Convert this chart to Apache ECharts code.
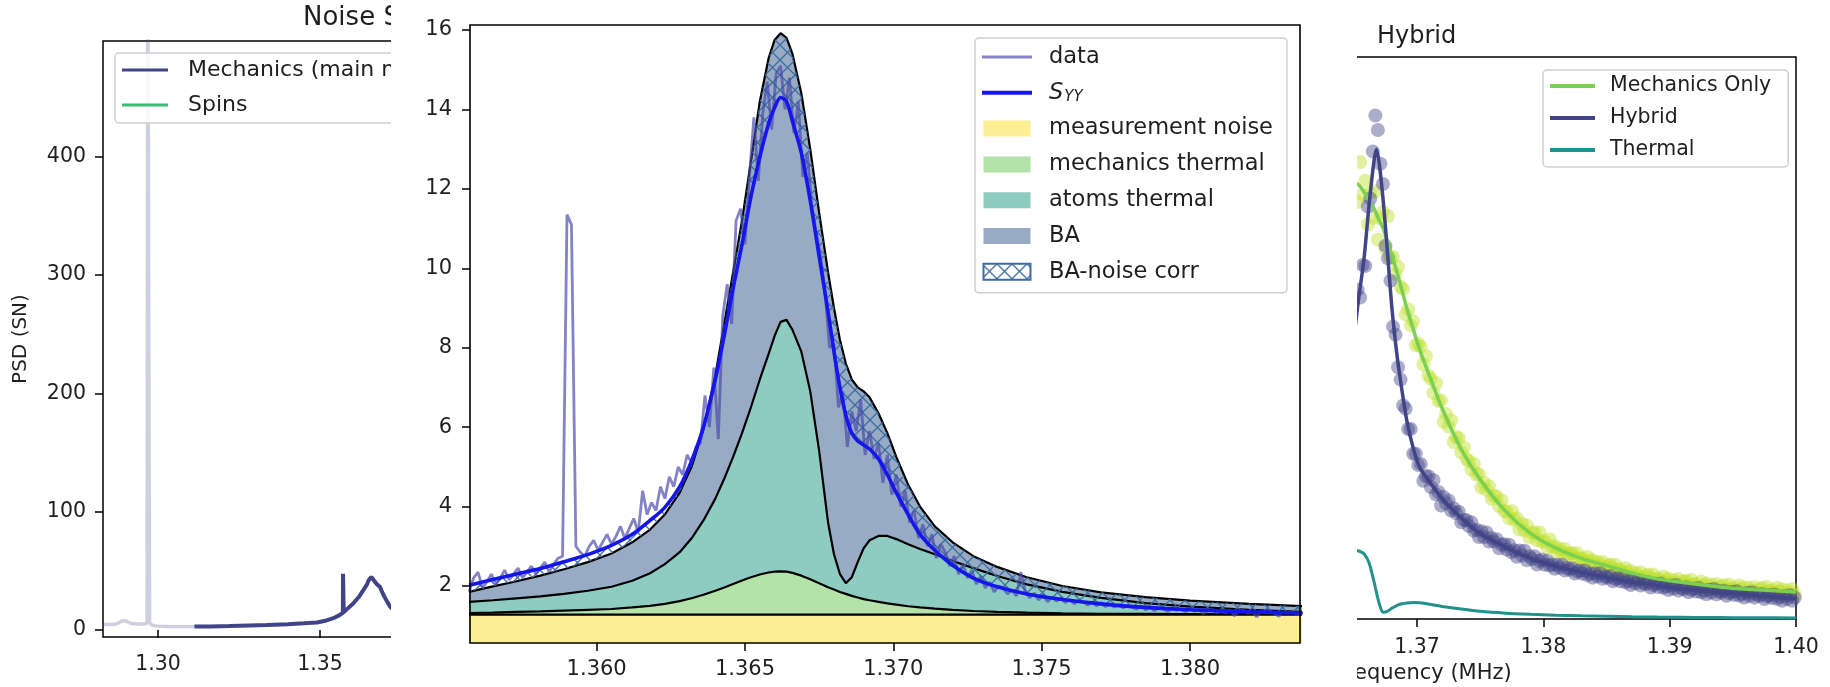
<!DOCTYPE html>
<html>
<head>
<meta charset="utf-8">
<script src="https://cdn.jsdelivr.net/npm/echarts@6/dist/echarts.min.js"></script>
<style>
  html, body { margin: 0; padding: 0; background: #ffffff; }
  #chart { width: 1830px; height: 687px; }
</style>
</head>
<body>
<div id="chart"></div>
<script>
// ---------- left panel: wide noise spectrum ----------
const wideLightFreq = [1.2830, 1.2850, 1.2870, 1.2882, 1.2892, 1.2902, 1.2915, 1.2935, 1.2955, 1.2966,
  1.2968, 1.2970, 1.2972, 1.2974, 1.2985, 1.3000, 1.3030, 1.3060, 1.3090, 1.3112];
const wideLightPsd = [4.8, 4.6, 5.0, 6.6, 7.9, 7.3, 5.6, 5.0, 5.0, 5.5,
  600, 600, 600, 5.5, 3.6, 3.2, 2.9, 2.8, 2.8, 2.8];
const wideMainFreq = [1.3112, 1.3160, 1.3220, 1.3280, 1.3336, 1.3400, 1.3450, 1.3490, 1.3520, 1.3541,
  1.3560, 1.35705, 1.3571, 1.35715, 1.3573, 1.3585, 1.3603, 1.3620, 1.3634, 1.3645,
  1.3650, 1.3654, 1.3658, 1.3663, 1.3668, 1.3674, 1.3685, 1.3695, 1.3708, 1.3716, 1.3730];
const wideMainPsd = [2.8, 2.9, 3.3, 3.8, 4.2, 4.8, 5.6, 6.3, 8.0, 9.9,
  12.5, 14.5, 47.5, 47.5, 15.0, 18.0, 22.5, 28.0, 33.8, 38.5,
  42.0, 43.5, 44.8, 43.0, 41.5, 39.0, 36.3, 30.0, 23.5, 19.8, 16.0];
const wideXTicks = [1.30, 1.35, 1.40];
const wideYTicks = [0, 100, 200, 300, 400];

// ---------- centre panel: spectrum decomposition ----------
const fitFreq = [1.3557, 1.3565, 1.3573, 1.3581, 1.3589, 1.3597, 1.3605, 1.3612, 1.3618, 1.3623,
  1.3628, 1.3632, 1.3636, 1.3640, 1.3643, 1.3646, 1.3649, 1.3652, 1.3655, 1.3658,
  1.3660, 1.3662, 1.3664, 1.3666, 1.3669, 1.3672, 1.3675, 1.3678, 1.3680, 1.3682,
  1.3684, 1.3686, 1.3688, 1.3690, 1.3692, 1.3695, 1.3698, 1.3701, 1.3705, 1.3709,
  1.3714, 1.3720, 1.3727, 1.3735, 1.3745, 1.3757, 1.3770, 1.3785, 1.3800, 1.3820,
  1.3838];
const syyFit = [2.02, 2.16, 2.30, 2.44, 2.61, 2.79, 3.02, 3.30, 3.65, 3.98,
  4.50, 5.15, 6.00, 7.20, 8.30, 9.50, 10.6, 11.8, 12.8, 13.65,
  14.05, 14.3, 14.2, 13.7, 12.9, 11.7, 10.3, 8.9, 7.9, 7.0,
  6.3, 5.85, 5.65, 5.55, 5.45, 5.2, 4.8, 4.35, 3.8, 3.3,
  2.9, 2.52, 2.2, 1.98, 1.8, 1.66, 1.55, 1.46, 1.40, 1.35,
  1.32];
const baTop = [1.85, 1.99, 2.12, 2.26, 2.42, 2.60, 2.82, 3.10, 3.42, 3.80,
  4.35, 5.0, 5.95, 7.3, 8.6, 9.9, 11.2, 12.7, 14.2, 15.3,
  15.75, 15.92, 15.8, 15.4, 14.4, 13.0, 11.4, 9.9, 9.0, 8.2,
  7.6, 7.2, 7.0, 6.9, 6.75, 6.35, 5.85, 5.25, 4.55, 4.0,
  3.5, 3.1, 2.75, 2.48, 2.22, 2.0, 1.84, 1.72, 1.63, 1.55,
  1.49];
const atomsTop = [1.60, 1.64, 1.69, 1.74, 1.80, 1.88, 1.98, 2.13, 2.32, 2.55,
  2.85, 3.2, 3.65, 4.2, 4.7, 5.25, 5.85, 6.5, 7.2, 7.85,
  8.3, 8.65, 8.7, 8.45, 7.9, 6.9, 5.4, 3.6, 2.8, 2.3,
  2.07, 2.22, 2.6, 2.95, 3.15, 3.26, 3.26, 3.18, 3.05, 2.93,
  2.8, 2.63, 2.45, 2.25, 2.04, 1.85, 1.7, 1.57, 1.48, 1.40,
  1.35];
const mechTop = [1.32, 1.33, 1.35, 1.36, 1.38, 1.40, 1.42, 1.46, 1.50, 1.55,
  1.62, 1.69, 1.78, 1.88, 1.96, 2.05, 2.14, 2.22, 2.29, 2.34,
  2.36, 2.37, 2.36, 2.33, 2.26, 2.17, 2.07, 1.97, 1.91, 1.85,
  1.80, 1.75, 1.71, 1.67, 1.64, 1.60, 1.56, 1.53, 1.49, 1.46,
  1.43, 1.40, 1.37, 1.35, 1.33, 1.31, 1.30, 1.295, 1.29, 1.285,
  1.285];
const noiseLevel = 1.28;

// measured PSD, sampled every dataStep starting at dataStart
const dataStart = 1.3557;
const dataStep = 0.00015;
const dataPsd = [
  1.85, 2.2, 2.35, 1.95, 2.1, 2.3, 2.05, 2.2, 2.4, 2.15, 2.3, 2.45, 2.2, 2.35, 2.5, 2.3, 2.45, 2.6, 2.35, 2.55, 2.7,
  2.75, 11.35, 11.1, 3.0,
  2.85, 2.75, 3.0, 3.15, 2.9, 3.1, 3.3, 3.05, 3.25, 3.5, 3.2,
  3.45, 3.7, 3.35, 4.4, 3.8, 4.1, 3.9, 4.5, 4.2, 4.75,
  4.5, 5.0, 4.8, 5.3, 5.1, 5.5, 5.6,
  6.8, 6.0, 7.5, 5.7, 8.8, 9.6, 8.6, 11.2,
  11.5, 10.6, 12.3, 13.8, 12.2, 13.9, 14.7, 13.5, 14.9,
  15.1, 14.0, 14.8, 13.4, 14.2, 12.3, 12.9, 11.6, 10.9, 10.3,
  9.4, 8.0, 8.1, 6.5, 6.9, 5.5, 6.4, 5.9, 6.7, 5.3,
  5.9, 5.2, 5.6, 4.6, 5.3, 4.3, 4.8, 4.0, 4.4, 3.6,
  3.9, 3.2, 3.55, 3.0, 3.3, 2.7, 3.05, 2.85, 2.5, 2.75,
  2.3, 2.55, 2.2, 2.4, 2.05, 2.25, 1.95, 2.1, 1.85, 2.0,
  1.95, 1.8, 1.9, 1.75, 2.35, 1.85, 1.7, 1.82, 1.65, 1.78,
  1.6, 1.72, 1.62, 1.7, 1.58, 1.66, 1.55, 1.64, 1.6, 1.52,
  1.6, 1.5, 1.58, 1.48, 1.55, 1.47, 1.53, 1.45, 1.5, 1.46,
  1.42, 1.5, 1.4, 1.46, 1.38, 1.44, 1.42, 1.36, 1.45, 1.39,
  1.41, 1.35, 1.43, 1.36, 1.4, 1.3, 1.38, 1.42, 1.33, 1.37,
  1.32, 1.39, 1.25, 1.36, 1.4, 1.31, 1.35, 1.22, 1.37, 1.33,
  1.38, 1.3, 1.24, 1.35, 1.31, 1.37, 1.27, 1.33];
const zoomXTicks = [1.360, 1.365, 1.370, 1.375, 1.380];
const zoomYTicks = [2, 4, 6, 8, 10, 12, 14, 16];

// ---------- right panel: hybrid vs mechanics only ----------
// measured points, sampled every scatterStep starting at scatterStart
const scatterStart = 1.3653;
const scatterStep = 0.0002;
const hybridPts = [
  29.3, 28.6, 31.5, 31.4, 36.7, 37.4, 41.6, 44.8, 43.5, 40.5,
  38.7, 33.2, 32.1, 30.1, 26.0, 25.3, 22.4, 21.3, 19.0, 18.7,
  16.9, 16.9, 14.7, 14.7, 13.7, 13.8, 12.3, 12.7, 12.7, 11.75,
  12.35, 11.1, 11.3, 10.1, 10.85, 10.3, 10.55, 9.65, 9.85, 9.4,
  9.55, 8.6, 8.8, 8.8, 8.27, 8.6, 7.85, 7.95, 7.3, 7.8,
  7.3, 7.7, 6.9, 7.2, 6.9, 7.1, 6.3, 6.6, 6.65, 6.17,
  6.6, 5.94, 6.12, 5.53, 6.1, 5.65, 6.07, 5.23, 5.59, 5.33,
  5.58, 4.84, 5.15, 5.29, 4.82, 5.18, 4.75, 4.85, 4.46, 4.83,
  4.55, 4.83, 4.31, 4.54, 4.38, 4.52, 4.04, 4.23, 4.32, 4.02,
  4.31, 3.9, 4.04, 3.68, 4.06, 3.79, 4.08, 3.57, 3.81, 3.66,
  3.82, 3.35, 3.55, 3.65, 3.36, 3.66, 3.26, 3.39, 3.03, 3.43,
  3.17, 3.47, 2.97, 3.23, 3.09, 3.26, 2.8, 3.02, 3.13, 2.85,
  3.16, 2.77, 2.92, 2.57, 2.97, 2.71, 3.02, 2.52, 2.78, 2.64,
  2.82, 2.37, 2.6, 2.72, 2.45, 2.76, 2.38, 2.54, 2.2, 2.61,
  2.36, 2.68, 2.19, 2.46, 2.34, 2.52, 2.07, 2.3, 2.42, 2.15,
  2.47, 2.09, 2.25, 1.91, 2.32, 2.07, 2.39, 1.9, 2.17, 2.04,
  2.22, 1.78, 2.01, 2.13, 1.86, 2.18, 1.8, 1.97, 1.63, 2.04,
  1.79, 2.12, 1.63, 1.9];
const mechOnlyPts = [
  37.1, 40.65, 37.75, 39.0, 35.1, 37.9, 35.7, 38.05, 33.75, 35.65,
  36.2, 32.95, 35.85, 32.15, 32.2, 30.7, 31.33, 29.55, 29.35, 27.1,
  27.55, 26.12, 26.48, 24.35, 24.5, 24.23, 22.65, 23.4, 21.67, 21.38,
  20.1, 20.98, 19.4, 19.45, 17.55, 18.25, 17.12, 17.68, 15.75, 16.2,
  16.08, 14.83, 15.29, 14.26, 14.05, 13.29, 13.8, 12.86, 12.87, 11.71,
  12.13, 11.47, 11.81, 10.7, 10.94, 10.92, 10.03, 10.54, 9.61, 9.55,
  8.94, 9.6, 8.81, 8.97, 7.96, 8.48, 7.87, 8.31, 7.25, 7.64,
  7.72, 7.03, 7.69, 6.86, 6.95, 6.39, 7.1, 6.41, 6.5, 5.95,
  6.25, 5.93, 6.23, 5.65, 5.85, 5.88, 5.45, 5.85, 5.38, 5.4,
  5.1, 5.52, 5.12, 5.26, 4.74, 5.08, 4.79, 5.08, 4.53, 4.77,
  4.83, 4.44, 4.82, 4.39, 4.42, 4.13, 4.54, 4.15, 4.28, 3.77,
  4.12, 3.85, 4.14, 3.61, 3.86, 3.94, 3.55, 3.95, 3.53, 3.59,
  3.33, 3.78, 3.42, 3.59, 3.11, 3.48, 3.23, 3.55, 3.04, 3.31,
  3.41, 3.05, 3.47, 3.07, 3.14, 2.88, 3.33, 2.97, 3.15, 2.67,
  3.04, 2.8, 3.13, 2.62, 2.9, 3.0, 2.65, 3.08, 2.68, 2.77,
  2.52, 2.99, 2.65, 2.83, 2.37, 2.75, 2.52, 2.85, 2.36, 2.65,
  2.77, 2.42, 2.86, 2.48, 2.56, 2.32, 2.79, 2.44, 2.63, 2.17,
  2.55, 2.32, 2.66, 2.16];
const rightFitFreq = [1.3650, 1.3654, 1.3658, 1.3662, 1.3666, 1.3668, 1.3670, 1.3673, 1.3676, 1.3680,
  1.3684, 1.3688, 1.3692, 1.3697, 1.3702, 1.3710, 1.3720, 1.3735, 1.3750, 1.3770,
  1.3790, 1.3810, 1.3830, 1.3850, 1.3870, 1.3890, 1.3910, 1.3930, 1.3950, 1.3970, 1.4000];
const hybridFit = [25.0, 28.7, 32.0, 36.8, 40.8, 41.8, 40.6, 37.5, 33.5, 27.8,
  23.6, 20.4, 17.6, 15.2, 13.5, 12.2, 10.7, 9.0, 7.6, 6.4,
  5.4, 4.7, 4.15, 3.7, 3.28, 2.97, 2.67, 2.46, 2.27, 2.07, 1.8];
const mechOnlyFit = [38.9, 38.6, 38.0, 37.3, 36.5, 36.0, 35.5, 34.8, 33.8, 32.4,
  30.9, 29.3, 27.6, 25.8, 24.0, 21.6, 18.7, 15.1, 12.4, 9.6,
  7.6, 6.3, 5.4, 4.75, 4.1, 3.57, 3.27, 2.98, 2.74, 2.6, 2.4];
const thermalFit = [6.1, 6.05, 5.8, 5.0, 3.3, 2.3, 1.4, 0.6, 0.65, 0.95,
  1.2, 1.35, 1.43, 1.46, 1.44, 1.32, 1.12, 0.88, 0.68, 0.52,
  0.42, 0.34, 0.28, 0.24, 0.2, 0.17, 0.15, 0.13, 0.12, 0.11, 0.1];
const hybXTicks = [1.34, 1.35, 1.36, 1.37, 1.38, 1.39, 1.40];

// ---------- styling ----------
const FONT = 'DejaVu Sans';
const INK = '#1f1f1f';
const C_NOISE = '#fcef93';
const C_MECH = '#b3e3a9';
const C_ATOMS = '#8ecbc1';
const C_BA = '#98abc4';
const C_HATCH = '#3d6d9e';
const C_DATA = 'rgba(72, 72, 170, 0.68)';
const C_SYY = '#1515ee';
const VIR_NAVY = '#414487';
const VIR_TEAL = '#21918c';
const VIR_GREEN = '#7ad151';
const VIR_LIME = 'rgba(189, 223, 38, 0.55)';
const VIR_NAVY_PT = 'rgba(65, 68, 135, 0.55)';
const C_SPINS = '#3dbc74';

const pairs = (xs, ys) => xs.map((x, i) => [x, ys[i]]);
const sampled = (start, step, ys) => ys.map((y, i) => [+(start + i * step).toFixed(6), y]);

function hatchTile() {
  const c = document.createElement('canvas');
  c.width = 15; c.height = 15;
  const g = c.getContext('2d');
  g.strokeStyle = C_HATCH;
  g.lineWidth = 1.3;
  g.beginPath();
  g.moveTo(0, 0); g.lineTo(15, 15);
  g.moveTo(15, 0); g.lineTo(0, 15);
  g.stroke();
  return c;
}
const hatch = { image: hatchTile(), repeat: 'repeat' };

function tickAxisLabel(size, margin, values, digits) {
  return {
    customValues: values, fontFamily: FONT, fontSize: size, color: INK, margin: margin,
    formatter: v => digits == null ? String(v) : Number(v).toFixed(digits)
  };
}
const tick = values => ({ show: true, customValues: values, length: 8, inside: false,
  lineStyle: { color: '#000', width: 1.5 } });

const LINE_ICON = 'path://M0,0H50V3H0Z';
const SYY_ICON = 'path://M0,0H50V4H0Z';
const PATCH_ICON = 'path://M0,0H47V16H0Z';
const legendFrame = {
  orient: 'vertical', backgroundColor: 'rgba(255,255,255,0.85)', borderColor: '#cfcfcf',
  borderWidth: 1.5, borderRadius: 4, selectedMode: false
};

const chart = echarts.init(document.getElementById('chart'), null, { renderer: 'canvas' });

const option = {
  animation: false,
  backgroundColor: '#ffffff',
  title: [
    { text: 'Noise Spectrum', left: 303, top: 4, padding: 0,
      textStyle: { fontFamily: FONT, fontSize: 26, fontWeight: 'normal', color: INK, lineHeight: 28 } },
    { text: 'Hybrid', left: 1377, top: 24, padding: 0,
      textStyle: { fontFamily: FONT, fontSize: 24, fontWeight: 'normal', color: INK, lineHeight: 26 } }
  ],
  grid: [
    { left: 103, top: 41, width: 541, height: 596, show: true, borderColor: '#000', borderWidth: 1.5,
      backgroundColor: 'transparent', outerBoundsMode: 'none' },
    { left: 470, top: 25, width: 830, height: 618, show: true, borderColor: '#000', borderWidth: 1.6,
      backgroundColor: 'transparent', z: 40, outerBoundsMode: 'none' },
    { left: 1034, top: 57, width: 762, height: 562, show: true, borderColor: '#000', borderWidth: 1.5,
      backgroundColor: 'transparent', outerBoundsMode: 'none' }
  ],
  xAxis: [
    { type: 'value', gridIndex: 0, min: 1.283, max: 1.45,
      axisLine: { show: false }, splitLine: { show: false },
      axisTick: tick(wideXTicks), axisLabel: tickAxisLabel(20.5, 17, wideXTicks, 2) },
    { type: 'value', gridIndex: 1, min: 1.35573, max: 1.38371, z: 30,
      axisLine: { show: false }, splitLine: { show: false },
      axisTick: tick(zoomXTicks), axisLabel: tickAxisLabel(21, 16, zoomXTicks, 3) },
    { type: 'value', gridIndex: 2, min: 1.33968, max: 1.40,
      axisLine: { show: false }, splitLine: { show: false },
      axisTick: tick(hybXTicks), axisLabel: tickAxisLabel(20.5, 18, hybXTicks, 2),
      name: 'Frequency (MHz)', nameLocation: 'middle', nameGap: 44,
      nameTextStyle: { fontFamily: FONT, fontSize: 21, color: INK, padding: [0, 0, 0, 17] } }
  ],
  yAxis: [
    { type: 'value', gridIndex: 0, min: -6, max: 498,
      axisLine: { show: false }, splitLine: { show: false },
      axisTick: tick(wideYTicks), axisLabel: tickAxisLabel(20.5, 17, wideYTicks, null),
      name: 'PSD (SN)', nameLocation: 'middle', nameGap: 72, nameRotate: 90,
      nameTextStyle: { fontFamily: FONT, fontSize: 20, color: INK } },
    { type: 'value', gridIndex: 1, min: 0.564, max: 16.126, z: 30,
      axisLine: { show: false }, splitLine: { show: false },
      axisTick: tick(zoomYTicks), axisLabel: tickAxisLabel(21, 18, zoomYTicks, null) },
    { type: 'value', gridIndex: 2, min: 0, max: 50,
      axisLine: { show: false }, splitLine: { show: false },
      axisTick: { show: false }, axisLabel: { show: false } }
  ],
  legend: [
    Object.assign({}, legendFrame, {
      left: 115, top: 53, padding: [5, 20, 6, 7], itemWidth: 46, itemHeight: 16, itemGap: 11,
      data: [
        { name: 'Mechanics (main mode)', icon: 'path://M0,0H46V3H0Z', itemStyle: { color: VIR_NAVY, borderWidth: 0 } },
        { name: 'Spins', icon: 'path://M0,0H46V3H0Z', itemStyle: { color: C_SPINS, borderWidth: 0 } }
      ],
      textStyle: { fontFamily: FONT, fontSize: 22, color: INK, lineHeight: 24, padding: [0, 0, 0, 15] }
    }),
    Object.assign({}, legendFrame, {
      left: 975, top: 38, padding: [7, 14, 9, 7], itemWidth: 50, itemHeight: 16, itemGap: 11.8, z: 45,
      data: [
        { name: 'data', icon: LINE_ICON, itemStyle: { color: C_DATA, borderWidth: 0 } },
        { name: 'SYY', icon: SYY_ICON, itemStyle: { color: C_SYY, borderWidth: 0 } },
        { name: 'measurement noise', icon: PATCH_ICON, itemStyle: { color: C_NOISE, borderWidth: 0 } },
        { name: 'mechanics thermal', icon: PATCH_ICON, itemStyle: { color: C_MECH, borderWidth: 0 } },
        { name: 'atoms thermal', icon: PATCH_ICON, itemStyle: { color: C_ATOMS, borderWidth: 0 } },
        { name: 'BA', icon: PATCH_ICON, itemStyle: { color: C_BA, borderWidth: 0 } },
        { name: 'BA-noise corr', icon: PATCH_ICON, itemStyle: { color: hatch, borderColor: C_HATCH, borderWidth: 2 } }
      ],
      formatter: name => name === 'SYY' ? '{s|S}{sub|YY}' : name,
      textStyle: {
        fontFamily: FONT, fontSize: 22.5, color: INK, lineHeight: 24, padding: [0, 0, 0, 12],
        rich: {
          s: { fontFamily: FONT, fontSize: 22.5, fontStyle: 'italic', color: INK, lineHeight: 24 },
          sub: { fontFamily: FONT, fontSize: 15, fontStyle: 'italic', color: INK, lineHeight: 24, padding: [9, 0, 0, 1] }
        }
      }
    }),
    Object.assign({}, legendFrame, {
      left: 1543, top: 70, padding: [5, 17, 6, 7], itemWidth: 45, itemHeight: 16, itemGap: 10,
      data: [
        { name: 'Mechanics Only', icon: 'path://M0,0H45V4H0Z', itemStyle: { color: VIR_GREEN, borderWidth: 0 } },
        { name: 'Hybrid', icon: 'path://M0,0H45V4H0Z', itemStyle: { color: VIR_NAVY, borderWidth: 0 } },
        { name: 'Thermal', icon: 'path://M0,0H45V4H0Z', itemStyle: { color: VIR_TEAL, borderWidth: 0 } }
      ],
      textStyle: { fontFamily: FONT, fontSize: 20.5, color: INK, lineHeight: 22, padding: [0, 0, 0, 10] }
    })
  ],
  graphic: {
    elements: [
      // white backing of the zoomed centre panel
      { type: 'rect', shape: { x: 391, y: 0, width: 966, height: 687 }, style: { fill: '#ffffff' }, z: 10, silent: true }
    ]
  },
  series: [
    // left panel
    { name: 'Mechanics (off-band)', type: 'line', xAxisIndex: 0, yAxisIndex: 0, symbol: 'none',
      data: pairs(wideLightFreq, wideLightPsd), lineStyle: { color: 'rgba(65,68,135,0.26)', width: 3.4 }, z: 2 },
    { name: 'Mechanics (main mode)', type: 'line', xAxisIndex: 0, yAxisIndex: 0, symbol: 'none',
      data: pairs(wideMainFreq, wideMainPsd), lineStyle: { color: VIR_NAVY, width: 4 }, itemStyle: { color: VIR_NAVY }, z: 3 },
    { name: 'Spins', type: 'line', xAxisIndex: 0, yAxisIndex: 0, symbol: 'none',
      data: [], lineStyle: { color: C_SPINS, width: 3 }, itemStyle: { color: C_SPINS }, z: 3 },

    // right panel
    { name: 'Mechanics Only points', type: 'scatter', xAxisIndex: 2, yAxisIndex: 2, symbolSize: 14,
      data: sampled(scatterStart, scatterStep, mechOnlyPts), itemStyle: { color: VIR_LIME }, z: 2 },
    { name: 'Hybrid points', type: 'scatter', xAxisIndex: 2, yAxisIndex: 2, symbolSize: 14,
      data: sampled(scatterStart, scatterStep, hybridPts), itemStyle: { color: VIR_NAVY_PT }, z: 2 },
    { name: 'Mechanics Only', type: 'line', xAxisIndex: 2, yAxisIndex: 2, symbol: 'none', smooth: 0.25,
      data: pairs(rightFitFreq, mechOnlyFit), lineStyle: { color: VIR_GREEN, width: 3.5 }, itemStyle: { color: VIR_GREEN }, z: 3 },
    { name: 'Hybrid', type: 'line', xAxisIndex: 2, yAxisIndex: 2, symbol: 'none', smooth: 0.25,
      data: pairs(rightFitFreq, hybridFit), lineStyle: { color: VIR_NAVY, width: 3.5 }, itemStyle: { color: VIR_NAVY }, z: 3 },
    { name: 'Thermal', type: 'line', xAxisIndex: 2, yAxisIndex: 2, symbol: 'none', smooth: 0.25,
      data: pairs(rightFitFreq, thermalFit), lineStyle: { color: VIR_TEAL, width: 3 }, itemStyle: { color: VIR_TEAL }, z: 3 },

    // centre panel: stacked contributions, drawn top layer first
    { name: 'BA', type: 'line', xAxisIndex: 1, yAxisIndex: 1, symbol: 'none',
      data: pairs(fitFreq, baTop), lineStyle: { color: '#000', width: 2.2 },
      areaStyle: { color: C_BA, opacity: 1 }, itemStyle: { color: C_BA }, z: 21 },
    { name: 'atoms thermal', type: 'line', xAxisIndex: 1, yAxisIndex: 1, symbol: 'none',
      data: pairs(fitFreq, atomsTop), lineStyle: { color: '#000', width: 2.2 },
      areaStyle: { color: C_ATOMS, opacity: 1 }, itemStyle: { color: C_ATOMS }, z: 22 },
    { name: 'mechanics thermal', type: 'line', xAxisIndex: 1, yAxisIndex: 1, symbol: 'none',
      data: pairs(fitFreq, mechTop), lineStyle: { color: '#000', width: 2.2 },
      areaStyle: { color: C_MECH, opacity: 1 }, itemStyle: { color: C_MECH }, z: 23 },
    { name: 'measurement noise', type: 'line', xAxisIndex: 1, yAxisIndex: 1, symbol: 'none',
      data: fitFreq.map(f => [f, noiseLevel]), lineStyle: { color: '#000', width: 2.2 },
      areaStyle: { color: C_NOISE, opacity: 1 }, itemStyle: { color: C_NOISE }, z: 24 },
    { name: 'BA-noise corr', type: 'custom', xAxisIndex: 1, yAxisIndex: 1, z: 25, clip: true,
      data: fitFreq.map((f, i) => [f, syyFit[i], baTop[i]]),
      encode: { x: 0, y: [1, 2] },
      itemStyle: { color: C_HATCH },
      renderItem: (params, api) => {
        if (params.dataIndex !== 0) return null;
        const upper = [], lower = [];
        for (let i = 0; i < fitFreq.length; i++) {
          upper.push(api.coord([fitFreq[i], Math.max(syyFit[i], baTop[i])]));
          lower.push(api.coord([fitFreq[i], Math.min(syyFit[i], baTop[i])]));
        }
        return { type: 'polygon', shape: { points: upper.concat(lower.reverse()) },
                 style: { fill: hatch, stroke: null } };
      } },
    { name: 'data', type: 'line', xAxisIndex: 1, yAxisIndex: 1, symbol: 'none',
      data: sampled(dataStart, dataStep, dataPsd), lineStyle: { color: C_DATA, width: 2.8 },
      itemStyle: { color: C_DATA }, z: 26 },
    { name: 'SYY', type: 'line', xAxisIndex: 1, yAxisIndex: 1, symbol: 'none', smooth: 0.3,
      data: pairs(fitFreq, syyFit), lineStyle: { color: C_SYY, width: 3.6 }, itemStyle: { color: C_SYY }, z: 27 }
  ]
};

chart.setOption(option);
</script>
</body>
</html>
